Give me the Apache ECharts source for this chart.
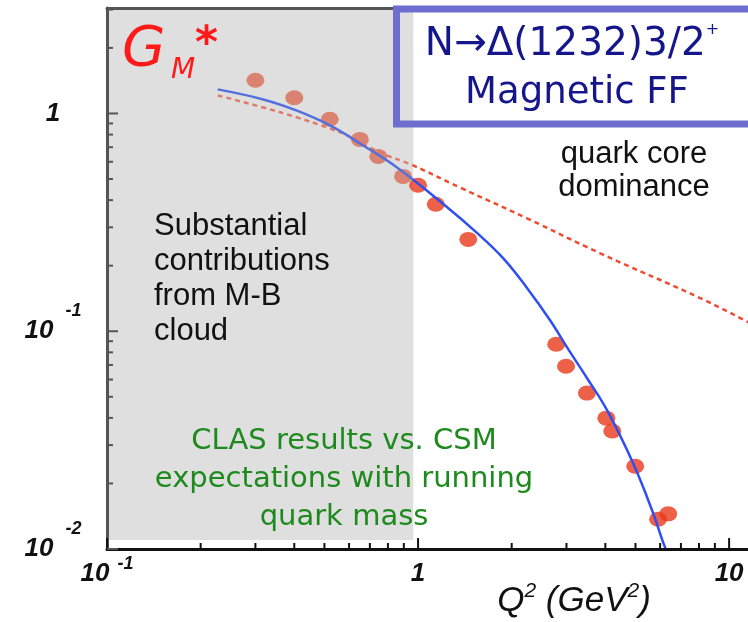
<!DOCTYPE html>
<html>
<head>
<meta charset="utf-8">
<script src="https://cdn.jsdelivr.net/npm/echarts@6/dist/echarts.min.js"></script>
<style>
  html, body { margin: 0; padding: 0; background: #fff; }
  #chart { width: 748px; height: 622px; }
</style>
</head>
<body>
<div id="chart"></div>
<script>
// CLAS data points (Q^2, G_M*)
const dataQ2 = [0.30, 0.40, 0.52, 0.65, 0.745, 0.895, 1.00, 1.14, 1.45, 2.78, 2.99, 3.49, 4.03, 4.21, 4.99, 5.91, 6.37];
const dataGM = [1.42, 1.18, 0.94, 0.76, 0.635, 0.514, 0.468, 0.383, 0.264, 0.0871, 0.0691, 0.052, 0.0399, 0.0348, 0.024, 0.0137, 0.0145];

// CSM with running quark mass (solid blue)
const csmQ2 = [0.227, 0.318, 0.408, 0.521, 0.666, 0.856, 1.20, 1.55, 1.88, 2.24, 2.66, 3.01, 3.49, 4.05, 4.91, 5.70, 6.22, 6.56];
const csmGM = [1.29, 1.16, 1.03, 0.881, 0.713, 0.565, 0.386, 0.282, 0.216, 0.158, 0.112, 0.0845, 0.061, 0.0434, 0.0248, 0.0146, 0.0102, 0.0088];

// quark core (dashed red)
const coreQ2 = [0.227, 0.318, 0.408, 0.510, 0.591, 0.755, 0.964, 1.36, 2.24, 3.85, 8.07, 11.5];
const coreGM = [1.21, 1.065, 0.959, 0.862, 0.793, 0.662, 0.577, 0.458, 0.330, 0.228, 0.142, 0.110];

// axes
const xMin = 0.1, xMax = 11.5;
const yMin = 0.01, yMax = 3.05;
const xMajorTicks = [0.1, 1, 10];
const xTickLabels = ['10^-1', '1', '10'];
const yMajorTicks = [0.01, 0.1, 1];
const yTickLabels = ['10^-2', '10^-1', '1'];
const xMinorTicks = [0.2, 0.3, 0.4, 0.5, 0.6, 0.7, 0.8, 0.9, 2, 3, 4, 5, 6, 7, 8, 9];
const yMinorTicks = [0.02, 0.03, 0.04, 0.05, 0.06, 0.07, 0.08, 0.09, 0.2, 0.3, 0.4, 0.5, 0.6, 0.7, 0.8, 0.9, 2, 3];
const grayUpTo = 0.965; // shaded "meson-baryon cloud" region

const chart = echarts.init(document.getElementById('chart'));

function pair(xs, ys) {
  return xs.map((x, i) => [x, ys[i]]);
}

function labelFmt(ticks, labels) {
  return function (v) {
    const i = ticks.findIndex((t) => Math.abs(Math.log10(t) - Math.log10(v)) < 1e-6);
    if (i < 0) return '';
    const parts = labels[i].split('^');
    return parts.length > 1 ? '{n|' + parts[0] + '}{s|' + parts[1] + '}' : '{n|' + parts[0] + '}';
  };
}

// split line colour at the edge of the shaded area (pixel space)
const splitAt = (413 - 107) / 641;
function twoTone(inside, outside) {
  return new echarts.graphic.LinearGradient(107, 0, 748, 0, [
    { offset: 0, color: inside },
    { offset: splitAt, color: inside },
    { offset: splitAt, color: outside },
    { offset: 1, color: outside },
  ], true);
}

const xTickData = xMajorTicks.map((v) => [v, yMin, 1]).concat(xMinorTicks.map((v) => [v, yMin, 0]));
const yTickData = yMajorTicks.map((v) => [xMin, v, 1]).concat(yMinorTicks.map((v) => [xMin, v, 0]));

const option = {
  animation: false,
  backgroundColor: '#fff',
  grid: { left: 107, right: 0, top: 8, bottom: 73 },
  xAxis: [
    {
      type: 'log',
      logBase: 10,
      min: xMin,
      max: xMax,
      z: 10,
      axisLine: { lineStyle: { color: '#111', width: 3 } },
      axisTick: { show: false },
      splitLine: { show: false },
      axisLabel: {
        margin: 6,
        showMaxLabel: false,
        formatter: labelFmt(xMajorTicks, xTickLabels),
        rich: {
          n: { fontFamily: 'Liberation Sans', fontWeight: 'bold', fontStyle: 'italic', fontSize: 26, color: '#111', lineHeight: 38 },
          s: { fontFamily: 'Liberation Sans', fontWeight: 'bold', fontStyle: 'italic', fontSize: 18, color: '#111', lineHeight: 18, verticalAlign: 'top', padding: [0, 0, 0, 8] },
        },
      },
    },
    {
      type: 'log',
      logBase: 10,
      min: xMin,
      max: xMax,
      position: 'top',
      z: 10,
      axisLine: { lineStyle: { color: '#555', width: 3 } },
      axisTick: { show: false },
      axisLabel: { show: false },
      splitLine: { show: false },
    },
  ],
  yAxis: {
    type: 'log',
    logBase: 10,
    min: yMin,
    max: yMax,
    z: 10,
    axisLine: { lineStyle: { color: '#555', width: 3 } },
    axisTick: { show: false },
    splitLine: { show: false },
    axisLabel: {
      margin: 54,
      align: 'center',
      showMaxLabel: false,
      formatter: labelFmt(yMajorTicks, yTickLabels),
      rich: {
        n: { fontFamily: 'Liberation Sans', fontWeight: 'bold', fontStyle: 'italic', fontSize: 26, color: '#111', lineHeight: 58 },
        s: { fontFamily: 'Liberation Sans', fontWeight: 'bold', fontStyle: 'italic', fontSize: 18, color: '#111', lineHeight: 18, verticalAlign: 'top', padding: [0, 0, 0, 12] },
      },
    },
  },
  series: [
    {
      // shaded region
      type: 'line',
      data: [],
      z: 0,
      markArea: {
        silent: true,
        itemStyle: { color: '#dfdfdf' },
        data: [[{ xAxis: xMin, yAxis: 0.011 }, { xAxis: grayUpTo, yAxis: yMax }]],
      },
    },
    {
      name: 'CLAS',
      type: 'scatter',
      z: 2,
      symbol: 'circle',
      symbolSize: [18, 15],
      data: pair(dataQ2, dataGM),
      itemStyle: {
        color: (p) => (p.value[0] < grayUpTo ? '#d96b55' : '#e8391a'),
      },
    },
    {
      name: 'quark core',
      type: 'line',
      z: 3,
      smooth: true,
      symbol: 'none',
      data: pair(coreQ2, coreGM),
      lineStyle: { color: twoTone('#e07a68', '#f04a32'), width: 2.5, type: [5, 4] },
    },
    {
      name: 'CSM',
      type: 'line',
      z: 4,
      smooth: 0.4,
      symbol: 'none',
      clip: true,
      data: pair(csmQ2, csmGM),
      lineStyle: { color: twoTone('#5570dc', '#2f4ff2'), width: 2.5 },
    },
    {
      // x-axis ticks (inside)
      type: 'custom',
      z: 11,
      silent: true,
      encode: { x: 0, y: 1 },
      data: xTickData,
      renderItem: (params, api) => {
        const p = api.coord([api.value(0), api.value(1)]);
        const len = api.value(2) ? 11 : 6;
        return {
          type: 'line',
          shape: { x1: p[0], y1: p[1], x2: p[0], y2: p[1] - len },
          style: { stroke: '#111', lineWidth: 2 },
        };
      },
    },
    {
      // y-axis ticks (inside)
      type: 'custom',
      z: 11,
      silent: true,
      encode: { x: 0, y: 1 },
      data: yTickData,
      renderItem: (params, api) => {
        const p = api.coord([api.value(0), api.value(1)]);
        const len = api.value(2) ? 11 : 6;
        return {
          type: 'line',
          shape: { x1: p[0], y1: p[1], x2: p[0] + len, y2: p[1] },
          style: { stroke: '#555', lineWidth: 2 },
        };
      },
    },
  ],
  graphic: [
    { type: 'text', z: 20, style: { text: 'G', x: 122, y: 50, fontFamily: 'DejaVu Sans', fontStyle: 'italic', fontSize: 56, fill: '#ff1a1a', verticalAlign: 'middle' } },
    { type: 'text', z: 20, style: { text: 'M', x: 171, y: 71, fontFamily: 'DejaVu Sans', fontStyle: 'italic', fontSize: 28, fill: '#ff1a1a', verticalAlign: 'middle' } },
    { type: 'text', z: 20, style: { text: '*', x: 195, y: 46, fontFamily: 'DejaVu Sans', fontStyle: 'italic', fontWeight: 'bold', fontSize: 44, fill: '#ff1a1a', verticalAlign: 'middle' } },
    {
      type: 'rect', z: 20,
      shape: { x: 396.5, y: 9, width: 400, height: 115 },
      style: { fill: 'none', stroke: '#6e6ed0', lineWidth: 7 },
    },
    {
      type: 'text', z: 21,
      style: {
        text: '{a|N→Δ(1232)3/2}{p|+}', x: 572, y: 45, align: 'center', verticalAlign: 'middle',
        rich: {
          a: { fontFamily: 'DejaVu Sans', fontSize: 39, fill: '#15158c', lineHeight: 46 },
          p: { fontFamily: 'DejaVu Sans', fontSize: 16, fill: '#15158c', lineHeight: 20, verticalAlign: 'top' },
        },
      },
    },
    { type: 'text', z: 21, style: { text: 'Magnetic FF', x: 577, y: 93, align: 'center', verticalAlign: 'middle', fontFamily: 'DejaVu Sans', fontSize: 37, fill: '#15158c' } },
    { type: 'text', z: 21, style: { text: 'quark core\ndominance', x: 634, y: 171, align: 'center', verticalAlign: 'middle', fontFamily: 'Liberation Sans', fontSize: 31, lineHeight: 33, fill: '#111' } },
    { type: 'text', z: 21, style: { text: 'Substantial\ncontributions\nfrom M-B\ncloud', x: 154, y: 279, verticalAlign: 'middle', fontFamily: 'Liberation Sans', fontSize: 31, lineHeight: 35, fill: '#111' } },
    { type: 'text', z: 21, style: { text: 'CLAS results vs. CSM\nexpectations with running\nquark mass', x: 344, y: 479, align: 'center', verticalAlign: 'middle', fontFamily: 'DejaVu Sans', fontSize: 29, lineHeight: 38, fill: '#1e8a1e' } },
    {
      type: 'text', z: 21,
      style: {
        text: '{a|Q}{s|2}{a| (GeV}{s|2}{a|)}', x: 574, y: 601, align: 'center', verticalAlign: 'middle',
        rich: {
          a: { fontFamily: 'Liberation Sans', fontStyle: 'italic', fontSize: 35, fill: '#111', lineHeight: 40 },
          s: { fontFamily: 'Liberation Sans', fontStyle: 'italic', fontSize: 21, fill: '#111', lineHeight: 26, verticalAlign: 'top' },
        },
      },
    },
  ],
};

chart.setOption(option);
</script>
</body>
</html>
